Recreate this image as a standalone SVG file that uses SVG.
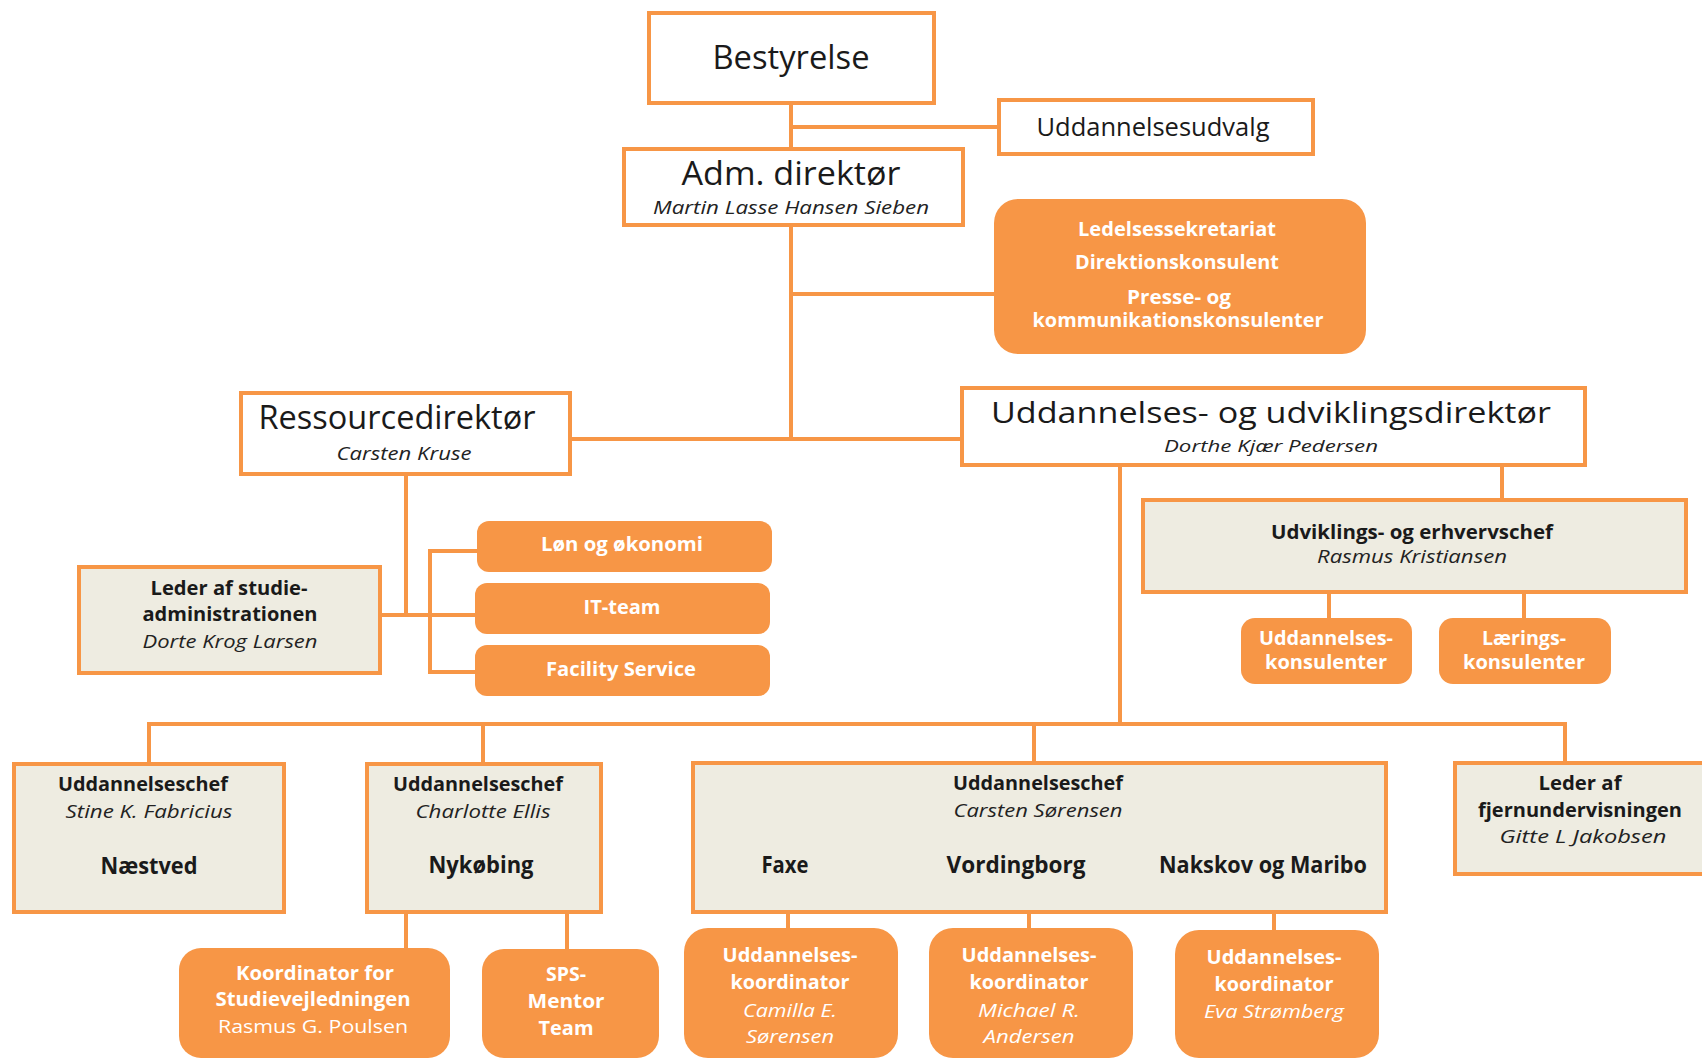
<svg xmlns="http://www.w3.org/2000/svg" width="1702" height="1060" viewBox="0 0 1702 1060">
<style>
.box{fill:#fff;stroke:#F79646;stroke-width:4}
.beige{fill:#EEECE1;stroke:#F79646;stroke-width:4}
.org{fill:#F79646}
.c{fill:none;stroke:#F79646;stroke-width:4}
text{font-family:"Open Sans","Liberation Sans",Arial,sans-serif;text-anchor:middle;fill:#1a1a1a}
.title{font-size:32px}
.mid{font-size:25px}
.sub{font-size:18px;font-style:italic;fill:#222}
.b{font-size:19px;font-weight:bold}
.w{font-size:19px;font-weight:bold;fill:#fff}
.wr{font-size:19px;fill:#fff}
.wi{font-size:19px;font-style:italic;fill:#fff}
.place{font-size:23px;font-weight:bold}
</style>
<rect width="1702" height="1060" fill="#fff"/>
<g id="connectors">
<path class="c" d="M791 103V149"/>
<path class="c" d="M791 127H999"/>
<path class="c" d="M791 225V439"/>
<path class="c" d="M791 294H994"/>
<path class="c" d="M570 439H962"/>
<path class="c" d="M406 474V615"/>
<path class="c" d="M380 615H477"/>
<path class="c" d="M477 551H430V672H477"/>
<path class="c" d="M1120 465V724"/>
<path class="c" d="M149 764V724H1565V764"/>
<path class="c" d="M483 724V764"/>
<path class="c" d="M1034 724V764"/>
<path class="c" d="M1502 465V500"/>
<path class="c" d="M1329 592V618"/>
<path class="c" d="M1524 592V618"/>
<path class="c" d="M406 912V948"/>
<path class="c" d="M567 912V949"/>
<path class="c" d="M788 912V928"/>
<path class="c" d="M1029 912V928"/>
<path class="c" d="M1274 912V930"/>
</g>
<g id="bestyrelse">
<rect class="box" x="649" y="13" width="285" height="90"/>
<text class="title" x="791" y="69" textLength="157" lengthAdjust="spacingAndGlyphs">Bestyrelse</text>
</g>
<g id="uddannelsesudvalg">
<rect class="box" x="999" y="100" width="314" height="54"/>
<text class="mid" x="1153" y="136" textLength="233" lengthAdjust="spacingAndGlyphs">Uddannelsesudvalg</text>
</g>
<g id="adm">
<rect class="box" x="624" y="149" width="339" height="76"/>
<text class="title" x="791" y="185" textLength="219" lengthAdjust="spacingAndGlyphs">Adm. direktør</text>
<text class="sub" x="791" y="214" textLength="276" lengthAdjust="spacingAndGlyphs">Martin Lasse Hansen Sieben</text>
</g>
<g id="ledelse">
<rect class="org" x="994" y="199" width="372" height="155" rx="24"/>
<text class="w" x="1177" y="236" textLength="198" lengthAdjust="spacingAndGlyphs">Ledelsessekretariat</text>
<text class="w" x="1177" y="269" textLength="204" lengthAdjust="spacingAndGlyphs">Direktionskonsulent</text>
<text class="w" x="1179" y="304" textLength="104" lengthAdjust="spacingAndGlyphs">Presse- og</text>
<text class="w" x="1178" y="327" textLength="291" lengthAdjust="spacingAndGlyphs">kommunikationskonsulenter</text>
</g>
<g id="ressource">
<rect class="box" x="241" y="393" width="329" height="81"/>
<text class="title" x="397" y="429" textLength="277" lengthAdjust="spacingAndGlyphs">Ressourcedirektør</text>
<text class="sub" x="404" y="460" textLength="135" lengthAdjust="spacingAndGlyphs">Carsten Kruse</text>
</g>
<g id="uddannelsesdir">
<rect class="box" x="962" y="388" width="623" height="77"/>
<text x="1271" y="423" style="font-size:30px" textLength="560" lengthAdjust="spacingAndGlyphs">Uddannelses-  og udviklingsdirektør</text>
<text class="sub" x="1271" y="452" style="font-size:17px" textLength="214" lengthAdjust="spacingAndGlyphs">Dorthe Kjær Pedersen</text>
</g>
<g id="studieadm">
<rect class="beige" x="79" y="567" width="301" height="106"/>
<text class="b" x="229" y="595" textLength="157" lengthAdjust="spacingAndGlyphs">Leder af studie-</text>
<text class="b" x="230" y="621" textLength="175" lengthAdjust="spacingAndGlyphs">administrationen</text>
<text class="sub" x="230" y="648" textLength="175" lengthAdjust="spacingAndGlyphs">Dorte Krog Larsen</text>
</g>
<g id="loen">
<rect class="org" x="477" y="521" width="295" height="51" rx="12"/>
<text class="w" x="622" y="551" textLength="162" lengthAdjust="spacingAndGlyphs">Løn og økonomi</text>
</g>
<g id="itteam">
<rect class="org" x="475" y="583" width="295" height="51" rx="12"/>
<text class="w" x="622" y="614" textLength="77" lengthAdjust="spacingAndGlyphs">IT-team</text>
</g>
<g id="facility">
<rect class="org" x="475" y="645" width="295" height="51" rx="12"/>
<text class="w" x="621" y="676" textLength="150" lengthAdjust="spacingAndGlyphs">Facility  Service</text>
</g>
<g id="udviklingschef">
<rect class="beige" x="1143" y="500" width="543" height="92"/>
<text class="b" x="1412" y="539" textLength="282" lengthAdjust="spacingAndGlyphs">Udviklings-  og erhvervschef</text>
<text class="sub" x="1412" y="563" textLength="190" lengthAdjust="spacingAndGlyphs">Rasmus Kristiansen</text>
</g>
<g id="uddkonsulenter">
<rect class="org" x="1241" y="618" width="171" height="66" rx="14"/>
<text class="w" x="1326" y="645" textLength="134" lengthAdjust="spacingAndGlyphs">Uddannelses-</text>
<text class="w" x="1326" y="669" textLength="122" lengthAdjust="spacingAndGlyphs">konsulenter</text>
</g>
<g id="laeringskonsulenter">
<rect class="org" x="1439" y="618" width="172" height="66" rx="14"/>
<text class="w" x="1524" y="645" textLength="84" lengthAdjust="spacingAndGlyphs">Lærings-</text>
<text class="w" x="1524" y="669" textLength="122" lengthAdjust="spacingAndGlyphs">konsulenter</text>
</g>
<g id="naestved">
<rect class="beige" x="14" y="764" width="270" height="148"/>
<text class="b" x="143" y="791" textLength="170" lengthAdjust="spacingAndGlyphs">Uddannelseschef</text>
<text class="sub" x="149" y="818" textLength="167" lengthAdjust="spacingAndGlyphs">Stine K. Fabricius</text>
<text class="place" x="149" y="874" textLength="97" lengthAdjust="spacingAndGlyphs">Næstved</text>
</g>
<g id="nykoebing">
<rect class="beige" x="367" y="764" width="234" height="148"/>
<text class="b" x="478" y="791" textLength="170" lengthAdjust="spacingAndGlyphs">Uddannelseschef</text>
<text class="sub" x="483" y="818" textLength="135" lengthAdjust="spacingAndGlyphs">Charlotte Ellis</text>
<text class="place" x="481" y="873" textLength="105" lengthAdjust="spacingAndGlyphs">Nykøbing</text>
</g>
<g id="carsten">
<rect class="beige" x="693" y="763" width="693" height="149"/>
<text class="b" x="1038" y="790" textLength="170" lengthAdjust="spacingAndGlyphs">Uddannelseschef</text>
<text class="sub" x="1038" y="817" textLength="169" lengthAdjust="spacingAndGlyphs">Carsten Sørensen</text>
<text class="place" x="785" y="873" textLength="47" lengthAdjust="spacingAndGlyphs">Faxe</text>
<text class="place" x="1016" y="873" textLength="139" lengthAdjust="spacingAndGlyphs">Vordingborg</text>
<text class="place" x="1263" y="873" textLength="208" lengthAdjust="spacingAndGlyphs">Nakskov og Maribo</text>
</g>
<g id="fjernundervisning">
<rect class="beige" x="1455" y="763" width="260" height="111"/>
<text class="b" x="1580" y="790" textLength="83" lengthAdjust="spacingAndGlyphs">Leder af</text>
<text class="b" x="1580" y="817" textLength="204" lengthAdjust="spacingAndGlyphs">fjernundervisningen</text>
<text class="sub" x="1583" y="843" textLength="167" lengthAdjust="spacingAndGlyphs">Gitte  L Jakobsen</text>
</g>
<g id="koordinator">
<rect class="org" x="179" y="948" width="271" height="110" rx="22"/>
<text class="w" x="315" y="980" textLength="158" lengthAdjust="spacingAndGlyphs">Koordinator for</text>
<text class="w" x="313" y="1006" textLength="195" lengthAdjust="spacingAndGlyphs">Studievejledningen</text>
<text class="wr" x="313" y="1033" textLength="190" lengthAdjust="spacingAndGlyphs">Rasmus G. Poulsen</text>
</g>
<g id="sps">
<rect class="org" x="482" y="949" width="177" height="109" rx="22"/>
<text class="w" x="566" y="981" textLength="40" lengthAdjust="spacingAndGlyphs">SPS-</text>
<text class="w" x="566" y="1008" textLength="77" lengthAdjust="spacingAndGlyphs">Mentor</text>
<text class="w" x="566" y="1035" textLength="55" lengthAdjust="spacingAndGlyphs">Team</text>
</g>
<g id="camilla">
<rect class="org" x="684" y="928" width="214" height="130" rx="24"/>
<text class="w" x="790" y="962" textLength="135" lengthAdjust="spacingAndGlyphs">Uddannelses-</text>
<text class="w" x="790" y="989" textLength="119" lengthAdjust="spacingAndGlyphs">koordinator</text>
<text class="wi" x="790" y="1017" textLength="94" lengthAdjust="spacingAndGlyphs">Camilla E.</text>
<text class="wi" x="790" y="1043" textLength="88" lengthAdjust="spacingAndGlyphs">Sørensen</text>
</g>
<g id="michael">
<rect class="org" x="929" y="928" width="204" height="130" rx="24"/>
<text class="w" x="1029" y="962" textLength="135" lengthAdjust="spacingAndGlyphs">Uddannelses-</text>
<text class="w" x="1029" y="989" textLength="119" lengthAdjust="spacingAndGlyphs">koordinator</text>
<text class="wi" x="1029" y="1017" textLength="102" lengthAdjust="spacingAndGlyphs">Michael R.</text>
<text class="wi" x="1029" y="1043" textLength="91" lengthAdjust="spacingAndGlyphs">Andersen</text>
</g>
<g id="eva">
<rect class="org" x="1175" y="930" width="204" height="128" rx="24"/>
<text class="w" x="1274" y="964" textLength="135" lengthAdjust="spacingAndGlyphs">Uddannelses-</text>
<text class="w" x="1274" y="991" textLength="119" lengthAdjust="spacingAndGlyphs">koordinator</text>
<text class="wi" x="1274" y="1018" textLength="140" lengthAdjust="spacingAndGlyphs">Eva Strømberg</text>
</g>
</svg>
